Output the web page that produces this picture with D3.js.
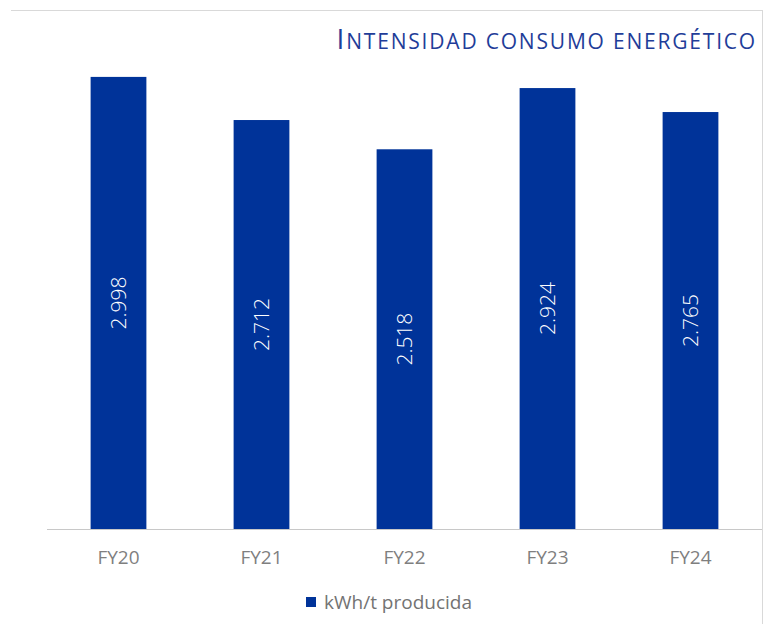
<!DOCTYPE html>
<html>
<head>
<meta charset="utf-8">
<script src="https://cdn.jsdelivr.net/npm/d3@7"></script>
<style>
  body { margin: 0; background: #fff; }
  svg { font-family: "Open Sans", "Noto Sans", sans-serif; }
</style>
</head>
<body>
<div id="chart"></div>
<script>
// data
const categories = ['FY20', 'FY21', 'FY22', 'FY23', 'FY24'];
const values = [2.998, 2.712, 2.518, 2.924, 2.765];
const valueLabels = ['2.998', '2.712', '2.518', '2.924', '2.765'];
const seriesName = 'kWh/t producida';
const title = 'Intensidad consumo energético';

const width = 766, height = 624;
const barColor = '#003399';

const svg = d3.select('#chart')
	.append('svg')
	.attr('width', width)
	.attr('height', height);

// frame lines (top and right)
svg.append('line')
	.attr('x1', 11).attr('x2', 763)
	.attr('y1', 10.5).attr('y2', 10.5)
	.style('stroke', '#d9d9d9');
svg.append('line')
	.attr('x1', 762.5).attr('x2', 762.5)
	.attr('y1', 10).attr('y2', 624)
	.style('stroke', '#d9d9d9');

var x = d3.scaleBand()
	.domain(categories)
	.range([47, 762])
	.paddingInner(0.61)
	.paddingOuter(0.305);

var y = d3.scaleLinear()
	.domain([0, 3])
	.range([529, 76.6]);

// bars
svg.selectAll('rect.bar')
	.data(values)
	.enter()
	.append('rect')
	.attr('class', 'bar')
	.attr('x', (d, i) => x(categories[i]))
	.attr('y', d => y(d))
	.attr('width', x.bandwidth())
	.attr('height', d => y(0) - y(d))
	.style('fill', barColor);

// baseline
svg.append('line')
	.attr('x1', 47).attr('x2', 762)
	.attr('y1', y(0) + 0.5).attr('y2', y(0) + 0.5)
	.style('stroke', '#c8c8c8')
	.style('stroke-width', 1);

// value labels, rotated inside bars
svg.selectAll('text.val')
	.data(values)
	.enter()
	.append('text')
	.attr('class', 'val')
	.attr('transform', (d, i) => {
		var cx = x(categories[i]) + x.bandwidth() / 2;
		var cy = (y(d) + y(0)) / 2;
		return 'translate(' + cx + ',' + cy + ') rotate(-90)';
	})
	.attr('text-anchor', 'middle')
	.attr('dy', '0.35em')
	.style('fill', '#fff')
	.style('font-size', '21px')
	.style('font-weight', 300)
	.text((d, i) => valueLabels[i]);

// x axis labels
var xAxis = svg.append('g')
	.attr('transform', 'translate(0,' + y(0) + ')')
	.call(d3.axisBottom(x).tickSize(0).tickPadding(22));
xAxis.select('.domain').remove();
xAxis.selectAll('text')
	.style('font-family', '"Open Sans", "Noto Sans", sans-serif')
	.style('font-size', '19px')
	.style('fill', '#7f7f7f');

// title: small caps drawn with tspans (first letter full size)
var t = svg.append('text')
	.attr('x', 757)
	.attr('y', 49)
	.attr('text-anchor', 'end')
	.style('letter-spacing', '1.8px')
	.style('fill', '#1f3d99');
t.append('tspan')
	.style('font-size', '28px')
	.text(title.charAt(0).toUpperCase());
t.append('tspan')
	.style('font-size', '21px')
	.text(title.slice(1).toUpperCase());

// legend
svg.append('rect')
	.attr('x', 306).attr('y', 597)
	.attr('width', 10).attr('height', 10)
	.style('fill', barColor);
svg.append('text')
	.attr('x', 324).attr('y', 609)
	.style('font-size', '19px')
	.style('fill', '#737373')
	.text(seriesName);
</script>
</body>
</html>
